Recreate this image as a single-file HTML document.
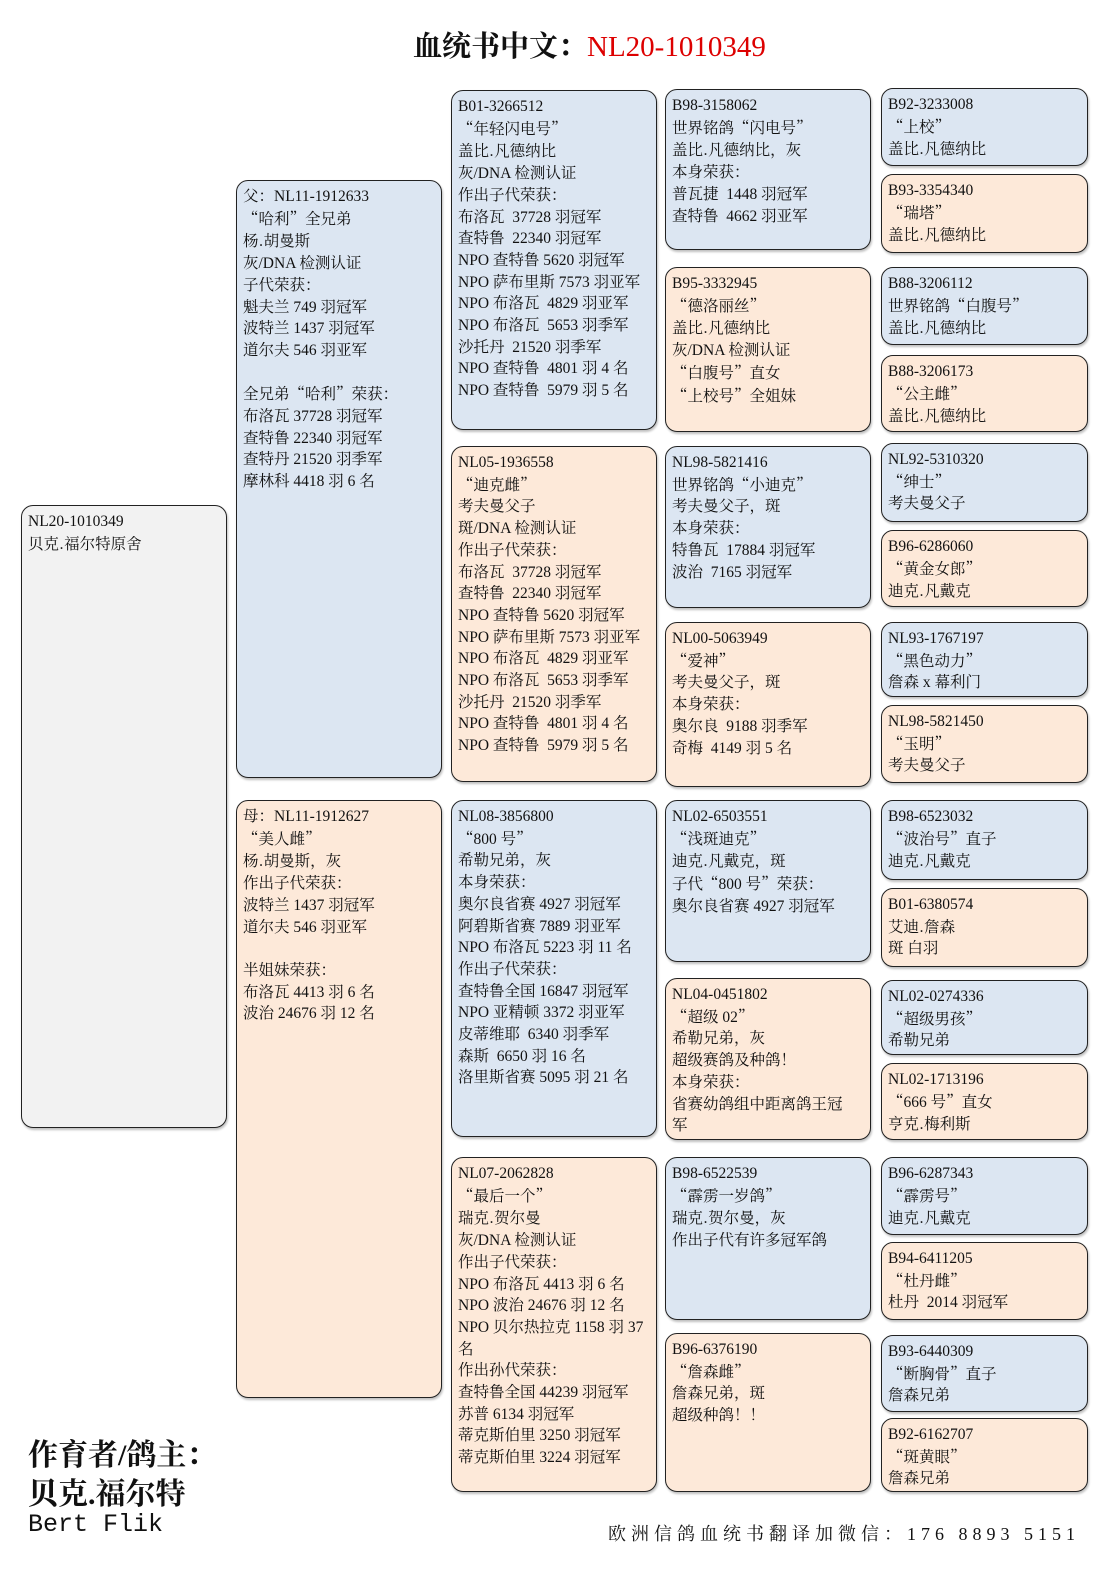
<!DOCTYPE html>
<html><head><meta charset="utf-8">
<style>
body{margin:0;width:1115px;height:1577px;background:#fff;position:relative;overflow:hidden;font-family:"Liberation Serif","Noto Serif CJK SC",serif;color:#111}
.b{position:absolute;box-sizing:border-box;border:1.6px solid #222;border-radius:12px;padding:5px 5px 0 6px;font-size:15.5px;line-height:21.7px;white-space:pre;overflow:hidden;box-shadow:1px 2px 2px rgba(0,0,0,.25)}
.u{background:#dce6f2}.p{background:#fde9d9}.g{background:#f2f2f2}
.t{position:absolute;white-space:nowrap}
i{font-style:normal;font-family:"Noto Serif CJK SC",serif}
</style></head><body>
<div class="t" style="left:413px;top:24px;font-size:29px;font-weight:bold">血统书中文：<span style="color:#d00;font-weight:normal">NL20-1010349</span></div>

<div class="b g" style="left:21px;top:505px;width:206px;height:623px">NL20-1010349
贝克<i>.</i>福尔特原舍</div>

<div class="b u" style="left:236px;top:180px;width:206px;height:598px">父：NL11-1912633
<i>“</i>哈利<i>”</i>全兄弟
杨<i>.</i>胡曼斯
灰/DNA 检测认证
子代荣获：
魁夫兰 749 羽冠军
波特兰 1437 羽冠军
道尔夫 546 羽亚军

全兄弟<i>“</i>哈利<i>”</i>荣获：
布洛瓦 37728 羽冠军
查特鲁 22340 羽冠军
查特丹 21520 羽季军
摩林科 4418 羽 6 名</div>
<div class="b p" style="left:236px;top:800px;width:206px;height:598px">母：NL11-1912627
<i>“</i>美人雌<i>”</i>
杨<i>.</i>胡曼斯，灰
作出子代荣获：
波特兰 1437 羽冠军
道尔夫 546 羽亚军

半姐妹荣获：
布洛瓦 4413 羽 6 名
波治 24676 羽 12 名</div>

<div class="b u" style="left:451px;top:90px;width:206px;height:340px">B01-3266512
<i>“</i>年轻闪电号<i>”</i>
盖比<i>.</i>凡德纳比
灰/DNA 检测认证
作出子代荣获：
布洛瓦  37728 羽冠军
查特鲁  22340 羽冠军
NPO 查特鲁 5620 羽冠军
NPO 萨布里斯 7573 羽亚军
NPO 布洛瓦  4829 羽亚军
NPO 布洛瓦  5653 羽季军
沙托丹  21520 羽季军
NPO 查特鲁  4801 羽 4 名
NPO 查特鲁  5979 羽 5 名</div>
<div class="b p" style="left:451px;top:446px;width:206px;height:336px">NL05-1936558
<i>“</i>迪克雌<i>”</i>
考夫曼父子
斑/DNA 检测认证
作出子代荣获：
布洛瓦  37728 羽冠军
查特鲁  22340 羽冠军
NPO 查特鲁 5620 羽冠军
NPO 萨布里斯 7573 羽亚军
NPO 布洛瓦  4829 羽亚军
NPO 布洛瓦  5653 羽季军
沙托丹  21520 羽季军
NPO 查特鲁  4801 羽 4 名
NPO 查特鲁  5979 羽 5 名</div>
<div class="b u" style="left:451px;top:800px;width:206px;height:337px">NL08-3856800
<i>“</i>800 号<i>”</i>
希勒兄弟，灰
本身荣获：
奥尔良省赛 4927 羽冠军
阿碧斯省赛 7889 羽亚军
NPO 布洛瓦 5223 羽 11 名
作出子代荣获：
查特鲁全国 16847 羽冠军
NPO 亚精顿 3372 羽亚军
皮蒂维耶  6340 羽季军
森斯  6650 羽 16 名
洛里斯省赛 5095 羽 21 名</div>
<div class="b p" style="left:451px;top:1157px;width:206px;height:335px">NL07-2062828
<i>“</i>最后一个<i>”</i>
瑞克<i>.</i>贺尔曼
灰/DNA 检测认证
作出子代荣获：
NPO 布洛瓦 4413 羽 6 名
NPO 波治 24676 羽 12 名
NPO 贝尔热拉克 1158 羽 37
名
作出孙代荣获：
查特鲁全国 44239 羽冠军
苏普 6134 羽冠军
蒂克斯伯里 3250 羽冠军
蒂克斯伯里 3224 羽冠军</div>

<div class="b u" style="left:665px;top:89px;width:206px;height:161px">B98-3158062
世界铭鸽<i>“</i>闪电号<i>”</i>
盖比<i>.</i>凡德纳比，灰
本身荣获：
普瓦捷  1448 羽冠军
查特鲁  4662 羽亚军</div>
<div class="b p" style="left:665px;top:267px;width:206px;height:165px">B95-3332945
<i>“</i>德洛丽丝<i>”</i>
盖比<i>.</i>凡德纳比
灰/DNA 检测认证
<i>“</i>白腹号<i>”</i>直女
<i>“</i>上校号<i>”</i>全姐妹</div>
<div class="b u" style="left:665px;top:446px;width:206px;height:162px">NL98-5821416
世界铭鸽<i>“</i>小迪克<i>”</i>
考夫曼父子，斑
本身荣获：
特鲁瓦  17884 羽冠军
波治  7165 羽冠军</div>
<div class="b p" style="left:665px;top:622px;width:206px;height:165px">NL00-5063949
<i>“</i>爱神<i>”</i>
考夫曼父子，斑
本身荣获：
奥尔良  9188 羽季军
奇梅  4149 羽 5 名</div>
<div class="b u" style="left:665px;top:800px;width:206px;height:162px">NL02-6503551
<i>“</i>浅斑迪克<i>”</i>
迪克<i>.</i>凡戴克，斑
子代<i>“</i>800 号<i>”</i>荣获：
奥尔良省赛 4927 羽冠军</div>
<div class="b p" style="left:665px;top:978px;width:206px;height:162px">NL04-0451802
<i>“</i>超级 02<i>”</i>
希勒兄弟，灰
超级赛鸽及种鸽！
本身荣获：
省赛幼鸽组中距离鸽王冠
军</div>
<div class="b u" style="left:665px;top:1157px;width:206px;height:163px">B98-6522539
<i>“</i>霹雳一岁鸽<i>”</i>
瑞克<i>.</i>贺尔曼，灰
作出子代有许多冠军鸽</div>
<div class="b p" style="left:665px;top:1333px;width:206px;height:159px">B96-6376190
<i>“</i>詹森雌<i>”</i>
詹森兄弟，斑
超级种鸽！！</div>

<div class="b u" style="left:881px;top:88px;width:207px;height:78px">B92-3233008
<i>“</i>上校<i>”</i>
盖比<i>.</i>凡德纳比</div>
<div class="b p" style="left:881px;top:174px;width:207px;height:79px">B93-3354340
<i>“</i>瑞塔<i>”</i>
盖比<i>.</i>凡德纳比</div>
<div class="b u" style="left:881px;top:267px;width:207px;height:78px">B88-3206112
世界铭鸽<i>“</i>白腹号<i>”</i>
盖比<i>.</i>凡德纳比</div>
<div class="b p" style="left:881px;top:355px;width:207px;height:77px">B88-3206173
<i>“</i>公主雌<i>”</i>
盖比<i>.</i>凡德纳比</div>
<div class="b u" style="left:881px;top:443px;width:207px;height:79px">NL92-5310320
<i>“</i>绅士<i>”</i>
考夫曼父子</div>
<div class="b p" style="left:881px;top:530px;width:207px;height:77px">B96-6286060
<i>“</i>黄金女郎<i>”</i>
迪克<i>.</i>凡戴克</div>
<div class="b u" style="left:881px;top:622px;width:207px;height:75px">NL93-1767197
<i>“</i>黑色动力<i>”</i>
詹森 x 幕利门</div>
<div class="b p" style="left:881px;top:705px;width:207px;height:78px">NL98-5821450
<i>“</i>玉明<i>”</i>
考夫曼父子</div>
<div class="b u" style="left:881px;top:800px;width:207px;height:80px">B98-6523032
<i>“</i>波治号<i>”</i>直子
迪克<i>.</i>凡戴克</div>
<div class="b p" style="left:881px;top:888px;width:207px;height:79px">B01-6380574
艾迪<i>.</i>詹森
斑 白羽</div>
<div class="b u" style="left:881px;top:980px;width:207px;height:75px">NL02-0274336
<i>“</i>超级男孩<i>”</i>
希勒兄弟</div>
<div class="b p" style="left:881px;top:1063px;width:207px;height:77px">NL02-1713196
<i>“</i>666 号<i>”</i>直女
亨克<i>.</i>梅利斯</div>
<div class="b u" style="left:881px;top:1157px;width:207px;height:78px">B96-6287343
<i>“</i>霹雳号<i>”</i>
迪克<i>.</i>凡戴克</div>
<div class="b p" style="left:881px;top:1242px;width:207px;height:78px">B94-6411205
<i>“</i>杜丹雌<i>”</i>
杜丹  2014 羽冠军</div>
<div class="b u" style="left:881px;top:1335px;width:207px;height:77px">B93-6440309
<i>“</i>断胸骨<i>”</i>直子
詹森兄弟</div>
<div class="b p" style="left:881px;top:1418px;width:207px;height:74px">B92-6162707
<i>“</i>斑黄眼<i>”</i>
詹森兄弟</div>

<div class="t" style="left:28px;top:1430px;font-size:30px;font-weight:bold">作育者/鸽主：</div>
<div class="t" style="left:28px;top:1469px;font-size:30px;font-weight:bold">贝克.福尔特</div>
<div class="t" style="left:28px;top:1510px;font-size:25px;font-family:'Liberation Mono',monospace">Bert Flik</div>
<div class="t" style="left:608px;top:1520px;font-size:18px;letter-spacing:5px">欧洲信鸽血统书翻译加微信：176 8893 5151</div>
</body></html>
